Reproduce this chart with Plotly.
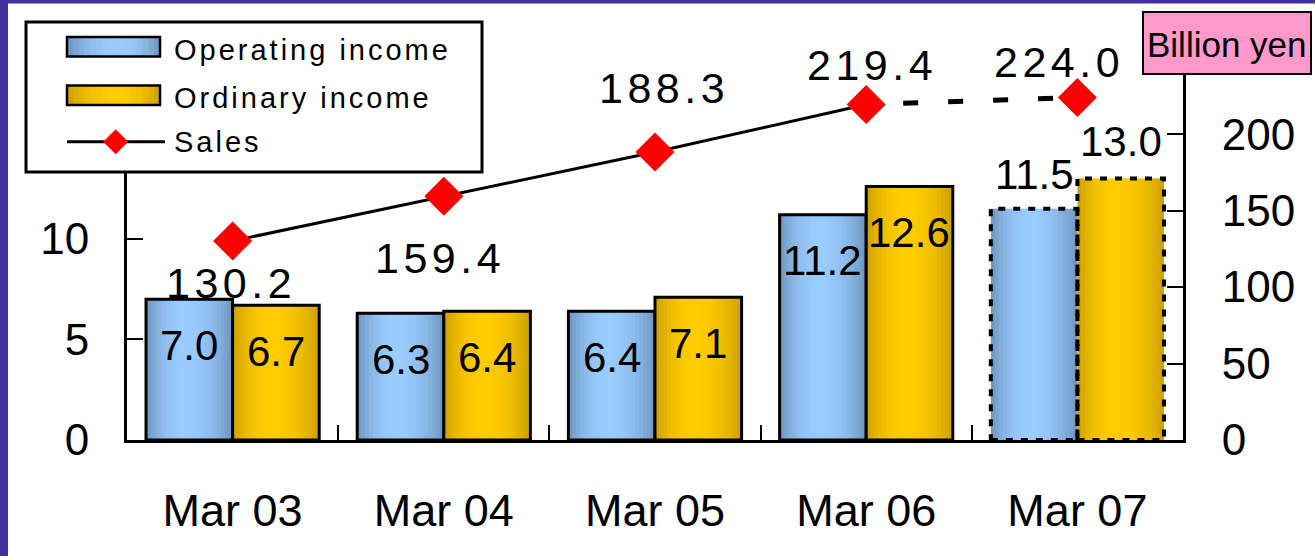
import plotly.graph_objects as go

# ---- data -------------------------------------------------------------
categories = ["Mar 03", "Mar 04", "Mar 05", "Mar 06", "Mar 07"]
operating_income = [7.0, 6.3, 6.4, 11.2, 11.5]
ordinary_income = [6.7, 6.4, 7.1, 12.6, 13.0]
sales = [130.2, 159.4, 188.3, 219.4, 224.0]
forecast = [False, False, False, False, True]   # Mar 07 is a projection
income_ticks = [0, 5, 10]
sales_ticks = [0, 50, 100, 150, 200]
series_names = ["Operating income", "Ordinary income", "Sales"]
unit_label = "Billion yen"

# ---- layout geometry (pixels) -----------------------------------------
W, H = 1315, 556
PL, PR, PT, PB = 127, 1183, 73, 440
FONT = "Liberation Sans, Arial, Helvetica, sans-serif"

BLUE_D, BLUE_L = (110, 148, 190), (153, 204, 255)
GOLD_D, GOLD_L = (204, 160, 0), (255, 204, 0)
PURPLE = "#40309f"

BAR_W = 0.41          # width of one bar, in category units
N_STRIPS = 22         # strips used to shade each bar


def fx(px):
    return (px - PL) / (PR - PL)


def fy(py):
    return (PB - py) / (PB - PT)


def shade(dark, light, t, peak=0.45):
    d = (t - peak) / ((1 - peak) if t > peak else peak)
    f = max(0.0, 1 - d * d)
    r, g, b = (round(a + (c - a) * f) for a, c in zip(dark, light))
    return f"rgb({r},{g},{b})"


def spaced(text, ls):
    return f'<span style="letter-spacing:{ls}px">{text}</span>'


fig = go.Figure()

# ---- sales line (right axis, drawn beneath the bars) -------------------
fig.add_trace(go.Scatter(
    x=categories[:4], y=sales[:4], mode="lines", yaxis="y",
    line=dict(color="black", width=3), hoverinfo="skip", showlegend=False))
fig.add_trace(go.Scatter(
    x=categories[3:], y=sales[3:], mode="lines", yaxis="y",
    line=dict(color="black", width=5,
              dash="0px,37px,15px,30px,15px,30px,15px,30px,15px,50px"),
    hoverinfo="skip", showlegend=False))
fig.add_trace(go.Scatter(
    x=categories, y=sales, mode="markers", yaxis="y", name=series_names[2],
    marker=dict(symbol="diamond", size=30, color="#ff0000",
                line=dict(width=0)),
    showlegend=False))

# ---- shaded bars (left axis) ------------------------------------------
step = BAR_W / N_STRIPS
for vals, dark, light, base, name in [
        (operating_income, BLUE_D, BLUE_L, -BAR_W, series_names[0]),
        (ordinary_income, GOLD_D, GOLD_L, 0.0, series_names[1])]:
    for k in range(N_STRIPS):
        t = (k + 0.5) / N_STRIPS
        off = base + k * step
        fig.add_trace(go.Bar(
            x=categories, y=vals, yaxis="y2",
            offset=off, width=min(step * 1.6, base + BAR_W - off),
            marker=dict(color=shade(dark, light, t), line=dict(width=0)),
            hoverinfo="skip", showlegend=False))
    fig.add_trace(go.Bar(
        x=categories, y=vals, yaxis="y2", name=name,
        offset=base, width=BAR_W,
        marker=dict(color="rgba(0,0,0,0)",
                    line=dict(color="black",
                              width=[0 if f else 3 for f in forecast])),
        showlegend=False))

shapes = []
annotations = []

# dotted outline on projected bars
for i, f in enumerate(forecast):
    if not f:
        continue
    for base, vals in [(-BAR_W, operating_income), (0.0, ordinary_income)]:
        shapes.append(dict(
            type="rect", xref="x", yref="y2", layer="above",
            x0=i + base, x1=i + base + BAR_W, y0=0, y1=vals[i],
            line=dict(color="black", width=4, dash="7px,8px"),
            fillcolor="rgba(0,0,0,0)"))

# bar value labels
cat_px = (PR - PL) / len(categories)
for i, f in enumerate(forecast):
    for k, (vals, base) in enumerate([(operating_income, -BAR_W),
                                      (ordinary_income, 0.0)]):
        shift = (34 + 3 * k) if f else -46
        annotations.append(dict(
            x=categories[i], y=vals[i], xref="x", yref="y2",
            xshift=(base + BAR_W / 2) * cat_px, yshift=shift,
            text=f"{vals[i]:.1f}", showarrow=False,
            xanchor="center", yanchor="middle",
            font=dict(family=FONT, size=42, color="black")))

# sales value labels
sales_label_shift = [(-2, -42), (-4, -62), (9, 64), (6, 40), (-18, 35)]
for i, v in enumerate(sales):
    dx, dy = sales_label_shift[i]
    annotations.append(dict(
        x=categories[i], y=v, xref="x", yref="y",
        xshift=dx, yshift=dy, text=spaced(f"{v:.1f}", 4.5),
        showarrow=False, xanchor="center", yanchor="middle",
        font=dict(family=FONT, size=43, color="black")))

# purple frame on top and left edges
shapes.append(dict(type="rect", xref="paper", yref="paper", layer="above",
                   x0=fx(0), x1=fx(8), y0=fy(H), y1=fy(0),
                   fillcolor=PURPLE, line=dict(width=0)))
shapes.append(dict(type="rect", xref="paper", yref="paper", layer="above",
                   x0=fx(0), x1=fx(W), y0=fy(3.5), y1=fy(0),
                   fillcolor=PURPLE, line=dict(width=0)))

# unit box
shapes.append(dict(type="rect", xref="paper", yref="paper", layer="above",
                   x0=fx(1143), x1=fx(1311), y0=fy(74), y1=fy(12),
                   fillcolor="#ff99cc", line=dict(color="black", width=2)))
annotations.append(dict(x=fx(1227), y=fy(44), xref="paper", yref="paper",
                        text=unit_label, showarrow=False,
                        xanchor="center", yanchor="middle",
                        font=dict(family=FONT, size=35, color="black")))

# legend
shapes.append(dict(type="rect", xref="paper", yref="paper", layer="above",
                   x0=fx(26), x1=fx(482), y0=fy(172), y1=fy(22),
                   fillcolor="white", line=dict(color="black", width=3)))
sw_l, sw_r = 67, 160
for (top, bot), dark, light in [((37, 56.5), BLUE_D, BLUE_L),
                                ((85.5, 105), GOLD_D, GOLD_L)]:
    n = 16
    w = (sw_r - sw_l) / n
    for k in range(n):
        shapes.append(dict(
            type="rect", xref="paper", yref="paper", layer="above",
            x0=fx(sw_l + k * w), x1=fx(min(sw_l + (k + 1.5) * w, sw_r)),
            y0=fy(bot), y1=fy(top),
            fillcolor=shade(dark, light, (k + 0.5) / n, peak=0.55),
            line=dict(width=0)))
    shapes.append(dict(type="rect", xref="paper", yref="paper", layer="above",
                       x0=fx(sw_l), x1=fx(sw_r), y0=fy(bot), y1=fy(top),
                       fillcolor="rgba(0,0,0,0)",
                       line=dict(color="black", width=2.5)))
shapes.append(dict(type="line", xref="paper", yref="paper", layer="above",
                   x0=fx(67), x1=fx(165), y0=fy(141.7), y1=fy(141.7),
                   line=dict(color="black", width=3)))
cx, cy, r = 115.7, 141.7, 12.5
shapes.append(dict(
    type="path", xref="paper", yref="paper", layer="above",
    path=(f"M{fx(cx - r)},{fy(cy)} L{fx(cx)},{fy(cy - r)} "
          f"L{fx(cx + r)},{fy(cy)} L{fx(cx)},{fy(cy + r)} Z"),
    fillcolor="#ff0000", line=dict(width=0)))
for name, ycen in zip(series_names, [49.5, 97.5, 142]):
    annotations.append(dict(x=fx(172), y=fy(ycen), xref="paper", yref="paper",
                            text=spaced(name, 3), showarrow=False,
                            xanchor="left", yanchor="middle",
                            font=dict(family=FONT, size=29, color="black")))

axis_common = dict(showgrid=False, zeroline=False, showline=True,
                   linecolor="black", linewidth=3, ticks="inside",
                   tickcolor="black", tickwidth=2)
tick_font = dict(family=FONT, size=44, color="black")

fig.update_layout(
    width=W, height=H,
    margin=dict(l=PL, r=W - PR, t=PT, b=H - PB, pad=0),
    paper_bgcolor="white", plot_bgcolor="white",
    barmode="overlay", showlegend=False,
    xaxis=dict(type="category", categoryorder="array",
               categoryarray=categories, range=[-0.5, len(categories) - 0.5],
               tickson="boundaries", ticklen=15, ticklabelstandoff=29,
               tickfont=dict(family=FONT, size=45, color="black"),
               **axis_common),
    yaxis=dict(side="right", range=[0, 240], tickvals=sales_ticks,
               ticklen=16, ticklabelstandoff=27, tickfont=tick_font,
               **axis_common),
    yaxis2=dict(side="left", overlaying="y", range=[0, 18.25],
                tickvals=income_ticks, ticklen=16, ticklabelstandoff=26,
                tickfont=tick_font, **axis_common),
    shapes=shapes, annotations=annotations,
)

fig.write_html("out.html")
